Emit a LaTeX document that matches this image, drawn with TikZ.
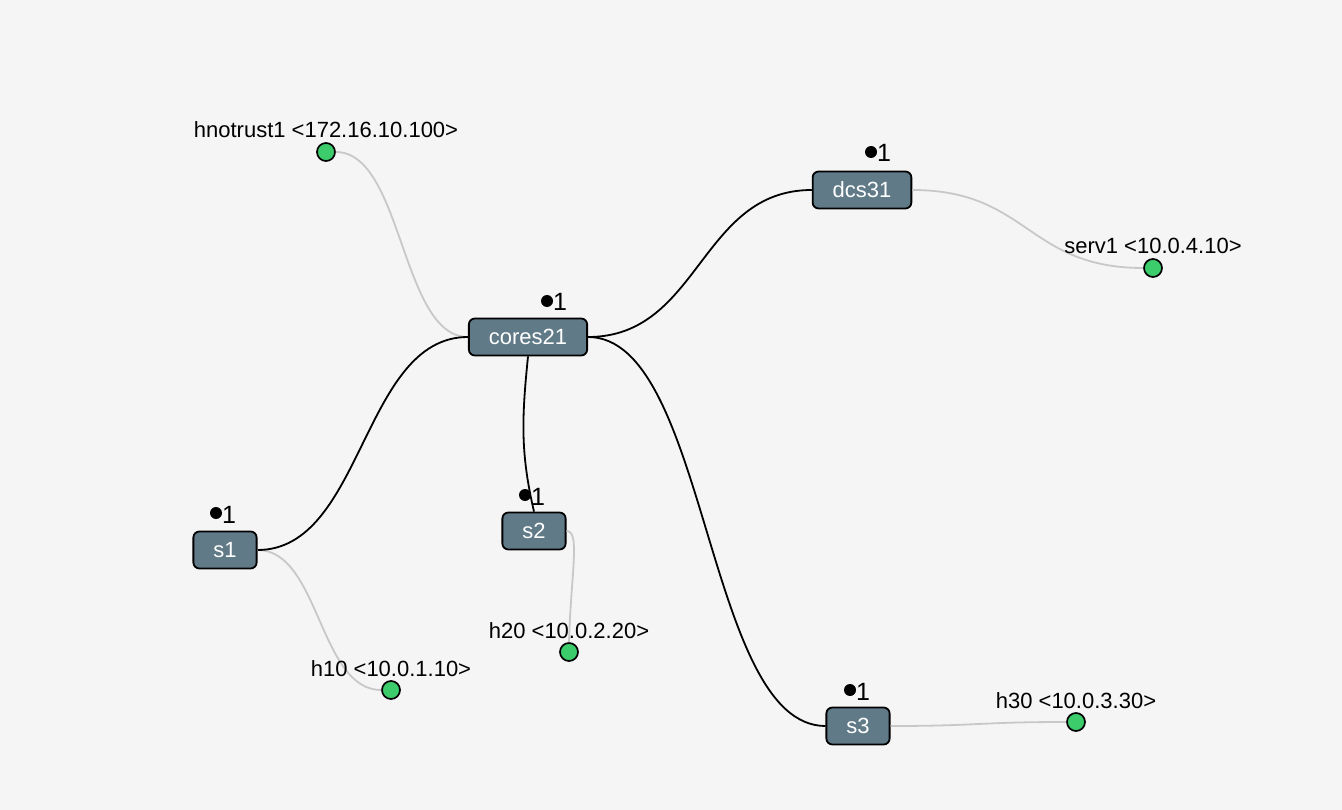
\documentclass[tikz,border=0pt]{standalone}
\usepackage{fontspec}
\setmainfont{Liberation Sans}
\usetikzlibrary{positioning}
\definecolor{swfill}{RGB}{96,122,136}
\definecolor{hostgreen}{RGB}{61,204,107}
\definecolor{linkgray}{RGB}{200,200,200}
\definecolor{bggray}{RGB}{245,245,245}

\tikzset{
  switch/.style={draw=black, line width=1.8pt, fill=swfill, rounded corners=6pt,
    text=white, font=\fontsize{22}{24}\selectfont, inner xsep=20pt, inner ysep=0pt,
    minimum height=37pt},
  host/.style={circle, draw=black, line width=1.7pt, fill=hostgreen,
    minimum size=18pt, inner sep=0pt},
  hostlabel/.style={font=\fontsize{22}{24}\selectfont, inner sep=0pt, anchor=base},
  badgedot/.style={circle, fill=black, minimum size=12pt, inner sep=0pt},
  badgenum/.style={font=\fontsize{25}{27}\selectfont, inner sep=0pt, anchor=base west},
  corelink/.style={draw=black, line width=1.8pt},
  hostlink/.style={draw=linkgray, line width=1.8pt}
}

% dot and count above a switch
\newcommand{\badge}[3]{% name, x, y
  \node[badgedot] (#1-dot) at (#2,#3) {};
  \node[badgenum] (#1-num) at ([xshift=6pt, yshift=-10pt]#1-dot.center) {1};
}

% address above a host (drawn over the links)
\newcommand{\addr}[2]{% name, label
  \node[hostlabel] (#1-lbl) at ([yshift=14pt]#1.center) {#2};
}

\begin{document}
\begin{tikzpicture}[x=1pt, y=-1pt]
  \useasboundingbox[fill=bggray] (0,0) rectangle (1342,810);

  % switches
  \node[switch] (cores21) at (528,337) {cores21};
  \node[switch] (dcs31) at (862,190) {dcs31};
  \node[switch] (s1) at (225,550) {s1};
  \node[switch] (s2) at (534,531) {s2};
  \node[switch] (s3) at (858,726) {s3};

  % hosts
  \node[host] (hnotrust1) at (326,152) {};
  \node[host] (serv1) at (1153,268) {};
  \node[host] (h10) at (391,690) {};
  \node[host] (h20) at (569,652) {};
  \node[host] (h30) at (1076,722) {};

  % host links
  \draw[hostlink] (hnotrust1.east) .. controls +(67,0) and +(-67,0) .. (cores21.west);
  \draw[hostlink] (dcs31.east) .. controls +(116,0) and +(-116,0) .. (serv1.west);
  \draw[hostlink] (s1.east) .. controls +(62,0) and +(-62,0) .. (h10.west);
  \draw[hostlink] (s2.east) .. controls +(14,0) and +(2,-70) .. (h20.north);
  \draw[hostlink] (s3.east) .. controls +(89,0) and +(-89,0) .. (h30.west);

  % switch links
  \draw[corelink] (cores21.west) .. controls +(-106,0) and +(106,0) .. (s1.east);
  \draw[corelink] (cores21.east) .. controls +(112,0) and +(-112,0) .. (dcs31.west);
  \draw[corelink] (cores21.east) .. controls +(120,0) and +(-120,0) .. (s3.west);
  \draw[corelink] (cores21.south) .. controls +(-6,60) and +(-14,-60) .. (s2.north);

  % addresses
  \addr{hnotrust1}{hnotrust1 <172.16.10.100>}
  \addr{serv1}{serv1 <10.0.4.10>}
  \addr{h10}{h10 <10.0.1.10>}
  \addr{h20}{h20 <10.0.2.20>}
  \addr{h30}{h30 <10.0.3.30>}

  % counts
  \badge{cores21}{547}{301}
  \badge{dcs31}{871}{152}
  \badge{s1}{216}{513}
  \badge{s2}{525}{495}
  \badge{s3}{850}{690}
\end{tikzpicture}
\end{document}
